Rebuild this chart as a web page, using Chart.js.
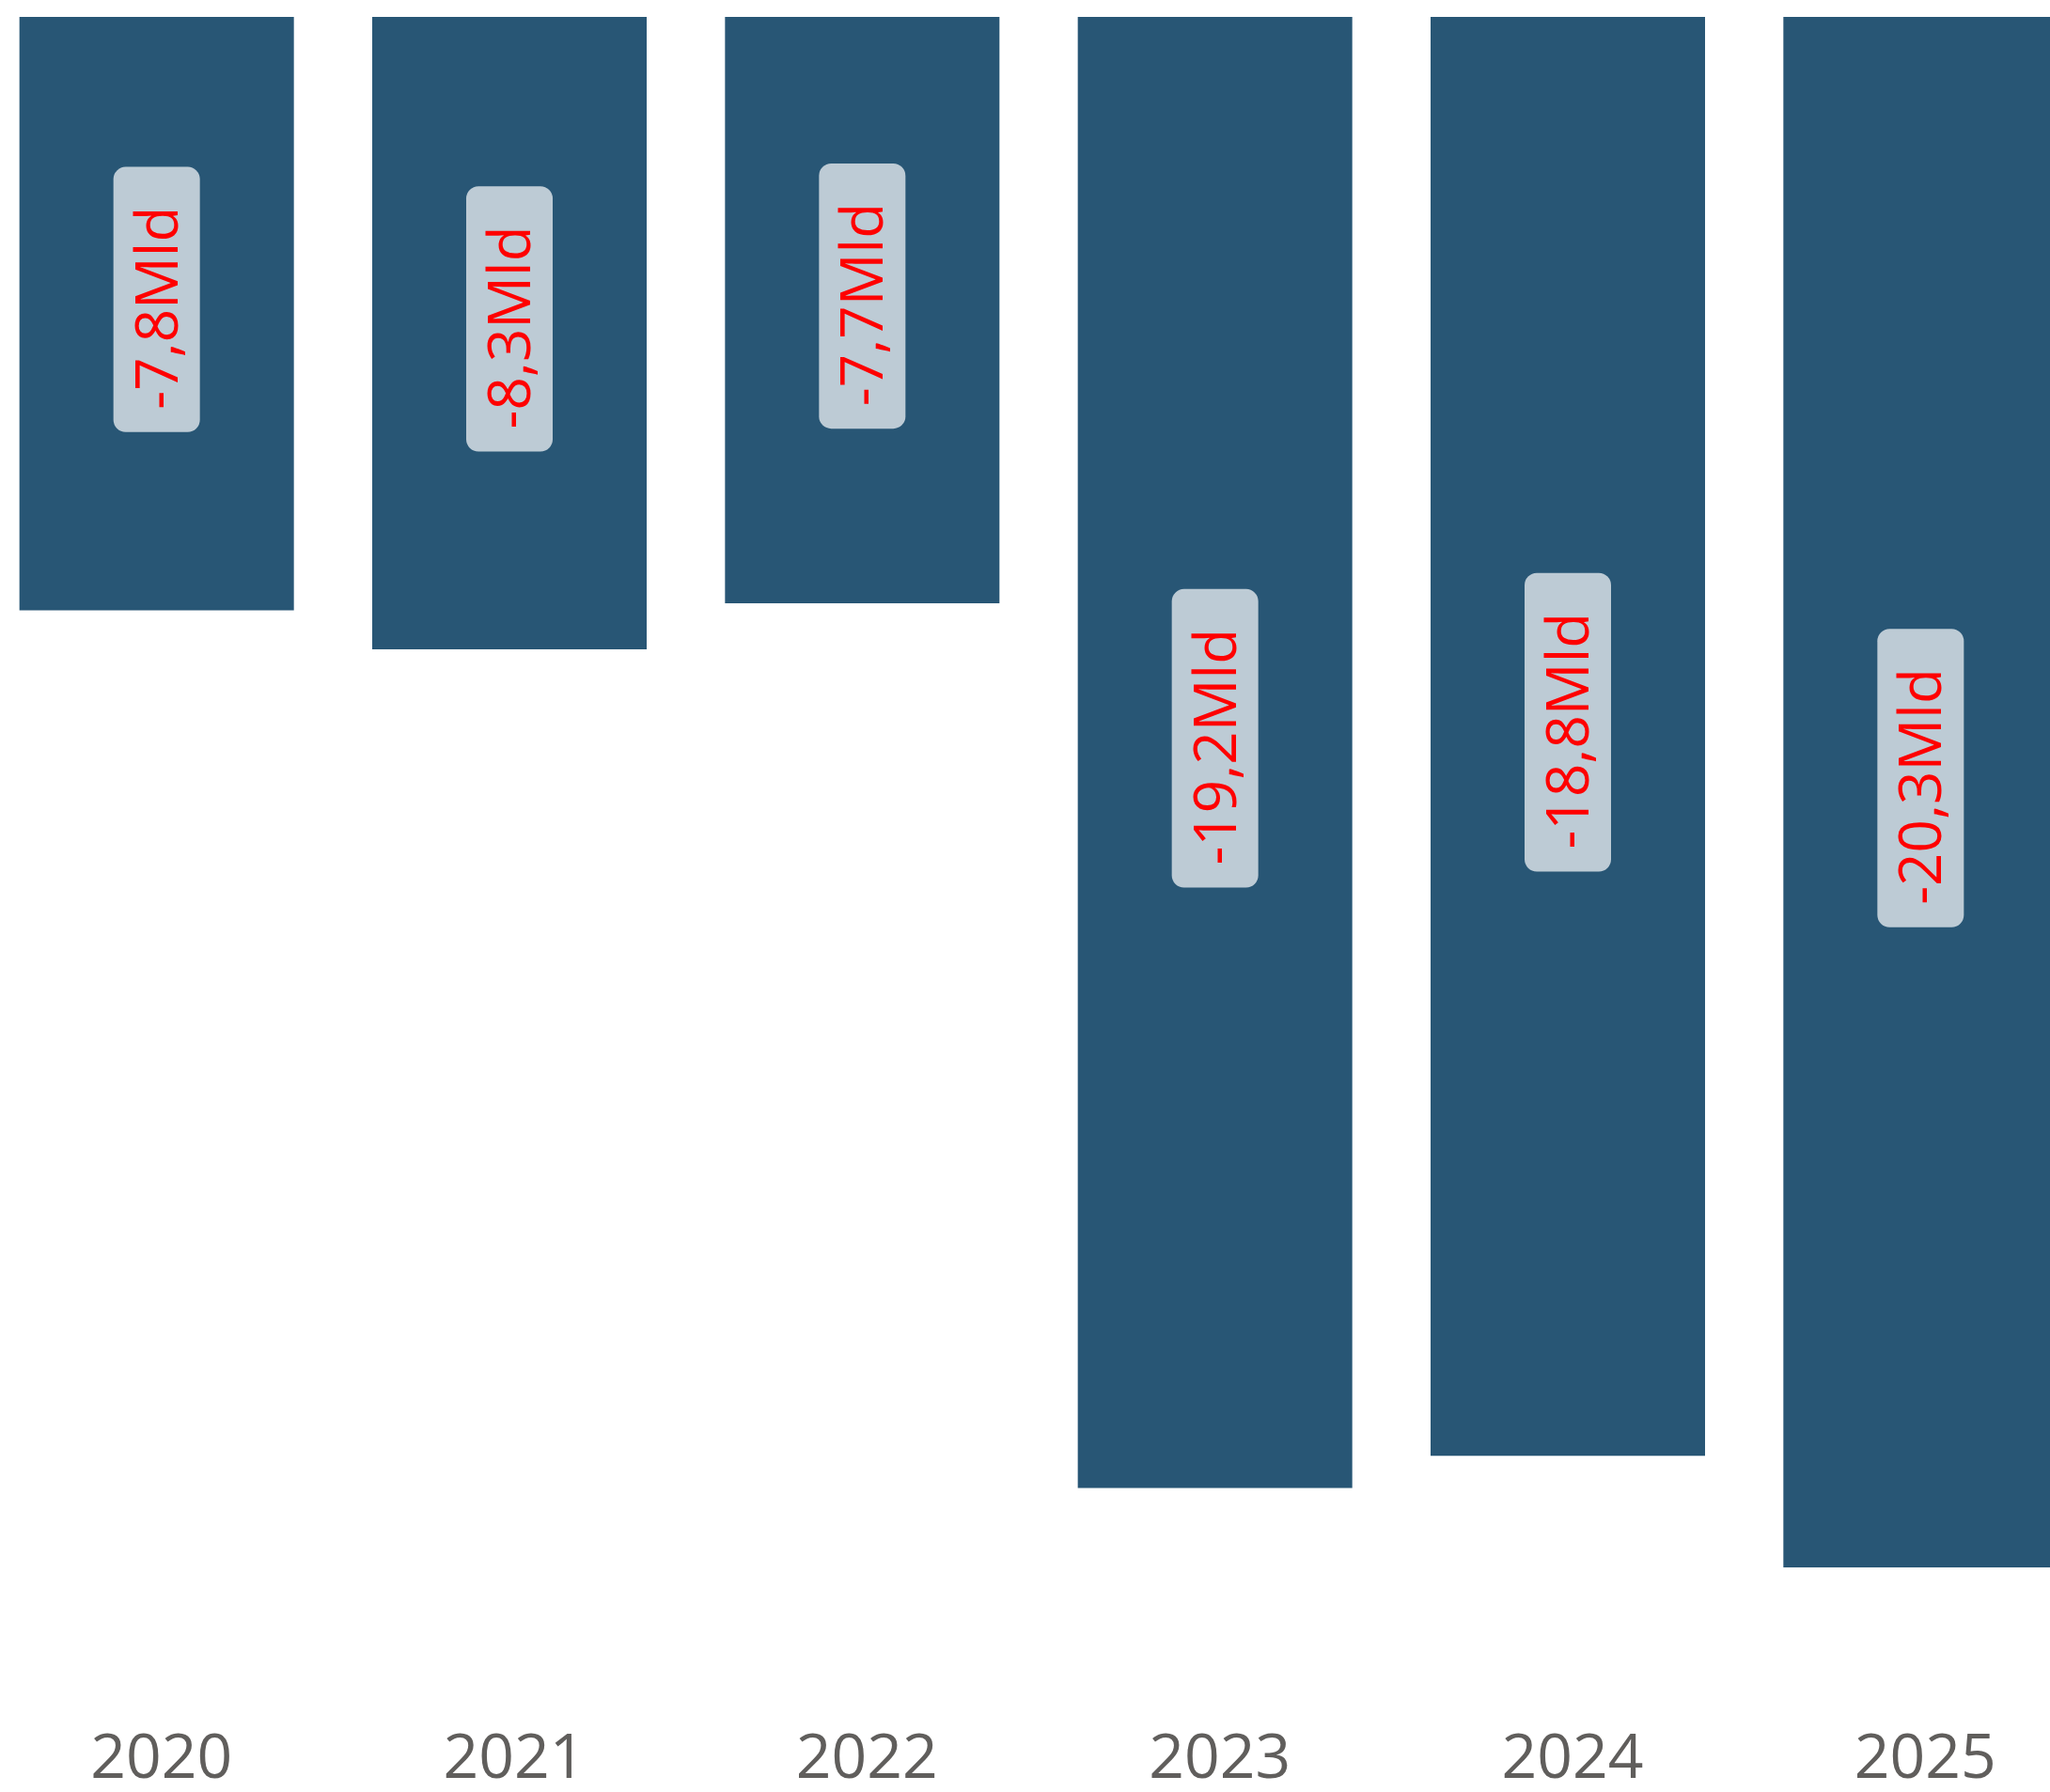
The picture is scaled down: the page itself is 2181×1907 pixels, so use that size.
<!DOCTYPE html>
<html><head><meta charset="utf-8">
<script src="https://cdn.jsdelivr.net/npm/chart.js@4.4.1/dist/chart.umd.min.js"></script>
<style>
html,body{margin:0;padding:0;background:#fff;overflow:hidden;width:2181px;height:1907px;position:relative;}
#wrap{position:absolute;left:-21px;top:0;width:2252px;height:1907px;}
canvas{display:block;}
</style></head><body>
<div id="wrap"><canvas id="c" width="2252" height="1907" style="width:2252px;height:1907px"></canvas></div>
<script>
const categories = ['2020', '2021', '2022', '2023', '2024', '2025'];
const values = [-7.76, -8.27, -7.67, -19.24, -18.82, -20.28];
const unitSuffix = 'Mld';
const yMin = -22;
const yMax = 0;

const FONT = '"Segoe UI","Open Sans","Noto Sans",sans-serif';

function fmt(v) {
  return v.toFixed(1).replace('.', ',') + unitSuffix;
}

const labelPlugin = {
  id: 'barLabels',
  afterDatasetsDraw(chart) {
    const ctx = chart.ctx;
    const meta = chart.getDatasetMeta(0);
    meta.data.forEach((bar, i) => {
      const txt = fmt(values[i]);
      const cx = bar.x;
      const cy = (bar.y + bar.base) / 2;
      ctx.save();
      const fs = 62;
      ctx.font = fs + 'px ' + FONT;
      const tw = ctx.measureText(txt).width;
      const bw = 92, bh = tw + 66;
      const by = cy - 15;
      ctx.fillStyle = '#BDCBD5';
      ctx.beginPath();
      ctx.roundRect(cx - bw / 2, by - bh / 2, bw, bh, 13);
      ctx.fill();
      ctx.translate(cx, cy - 6);
      ctx.rotate(-Math.PI / 2);
      ctx.fillStyle = '#FF0000';
      ctx.textAlign = 'center';
      ctx.textBaseline = 'alphabetic';
      ctx.fillText(txt, 0, fs * 0.714 / 2);
      ctx.restore();
    });
  }
};

new Chart(document.getElementById('c'), {
  type: 'bar',
  data: {
    labels: categories,
    datasets: [{
      data: values,
      backgroundColor: '#285675',
      borderWidth: 0,
      categoryPercentage: 1,
      barPercentage: 0.778
    }]
  },
  options: {
    responsive: false,
    animation: false,
    devicePixelRatio: 1,
    layout: { padding: { top: 18, left: 0, right: 0, bottom: 0 } },
    plugins: { legend: { display: false }, tooltip: { enabled: false }, title: { display: false } },
    scales: {
      x: {
        grid: { display: false, drawTicks: false },
        border: { display: false },
        ticks: {
          color: '#605E5C',
          font: { family: FONT, size: 66, lineHeight: 1.2 },
          padding: 26,
          labelOffset: 5,
          maxRotation: 0,
          autoSkip: false
        },
        afterFit(scale) { scale.height = 99; }
      },
      y: {
        display: false,
        min: yMin,
        max: yMax
      }
    }
  },
  plugins: [labelPlugin]
});
</script>
</body></html>
